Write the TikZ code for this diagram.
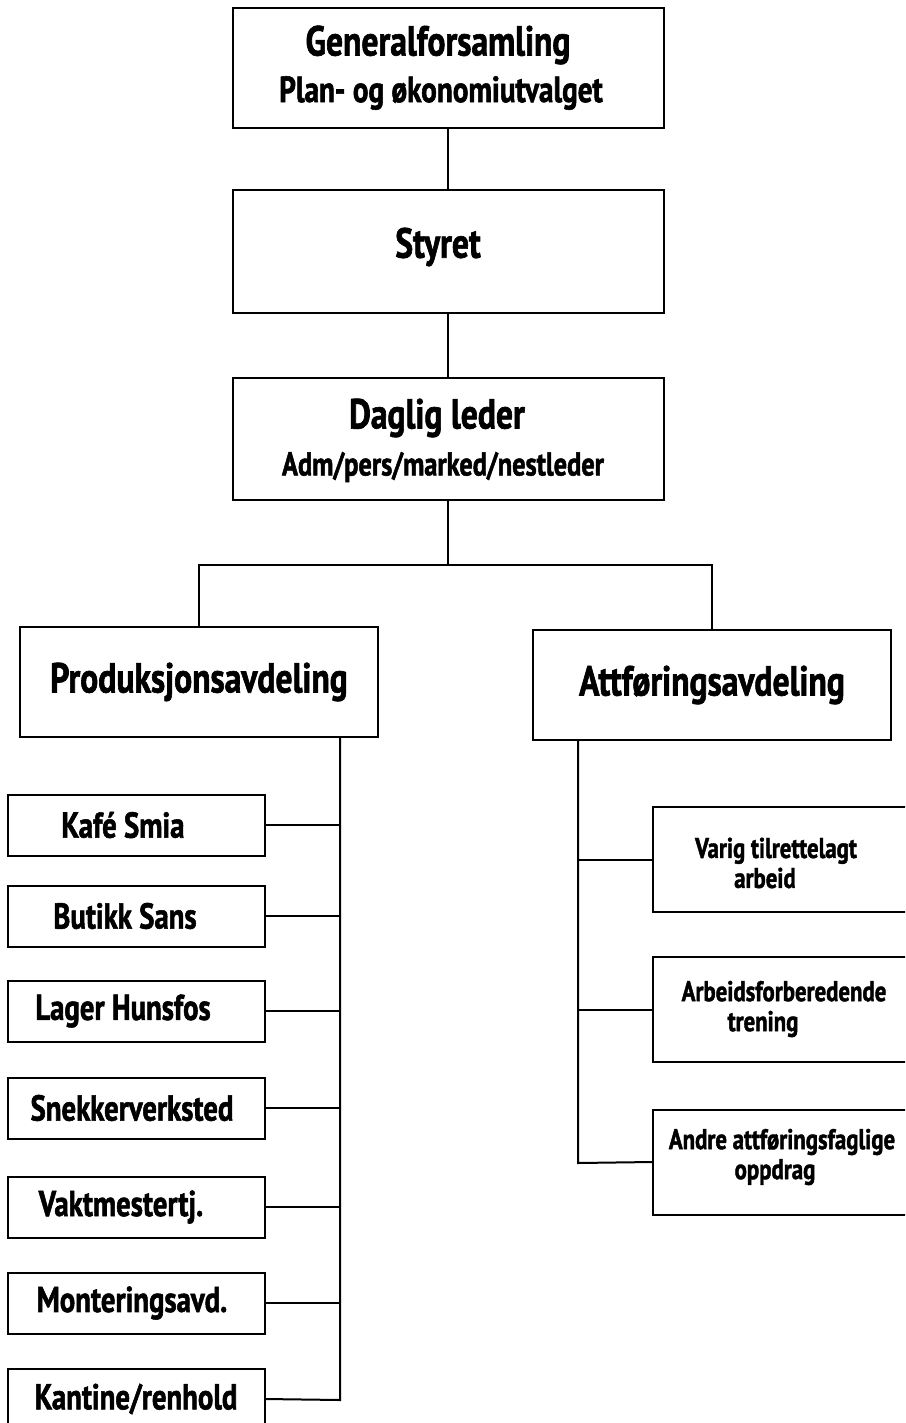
\documentclass[tikz,border=0pt]{standalone}
\usepackage{fontspec}
\setmainfont{PT Sans}[FakeStretch=0.8, BoldFeatures={FakeBold=1.5}]
\begin{document}
\begin{tikzpicture}[x=1pt,y=-1pt,
  box/.style={draw, line width=2pt, inner sep=0pt, align=center, font=\bfseries},
  ln/.style={line width=2pt},
  big/.style={font=\bfseries\fontsize{42}{48}\selectfont},
  mid/.style={font=\bfseries\fontsize{36.5}{40}\selectfont},
  sml/.style={font=\bfseries\fontsize{28.5}{30}\selectfont, align=center},
  lbox/.style={box, minimum width=257, minimum height=61, font=\bfseries\fontsize{36}{40}\selectfont},
  rbox/.style={box, minimum width=320, minimum height=105}]
\useasboundingbox (0,0) rectangle (905,1423);
\clip (0,0) rectangle (905,1423);

% top chain
\node[box, minimum width=431, minimum height=120] (gf) at (448,68) {};
\node[big] (gft) at (438,45) {Generalforsamling};
\node[mid] (gfs) at (441,93) {Plan- og økonomiutvalget};

\node[box, minimum width=431, minimum height=123] (st) at (448,251.5) {};
\node[big] (stt) at (438,247) {Styret};

\node[box, minimum width=431, minimum height=122] (dl) at (448,439) {};
\node[big] (dlt) at (437,418) {Daglig leder};
\node[font=\bfseries\fontsize{33}{38}\selectfont] (dls) at (443,467) {Adm/pers/marked/nestleder};

\draw[ln] (gf.south) -- (st.north);
\draw[ln] (st.south) -- (dl.north);

% departments
\node[box, minimum width=358, minimum height=110, big] (prod) at (199,682) {Produksjonsavdeling};
\node[box, minimum width=358, minimum height=110, big] (att) at (712,685) {Attføringsavdeling};
\coordinate (j) at (448,565);
\draw[ln] (dl.south) -- (j);
\draw[ln] (prod.north) |- (j) -| (att.north);

% production units
\node[lbox] (kafe) at (136,825) {\hspace*{-26pt}Kafé Smia};
\node[lbox] (butikk) at (136,916) {\hspace*{-22pt}Butikk Sans};
\node[lbox] (lager) at (136,1011) {\hspace*{-26pt}Lager Hunsfos};
\node[lbox] (snekker) at (136,1108) {\hspace*{-8pt}Snekkerverksted};
\node[lbox] (vakt) at (136,1207) {\hspace*{-30pt}Vaktmestertj.};
\node[lbox] (mont) at (136,1303) {\hspace*{-8pt}Monteringsavd.};
\node[lbox] (kant) at (136,1399) {Kantine/renhold};

\coordinate (ps) at (340,737);
\coordinate (pe) at (340,1400);
\draw[ln] (ps) -- (pe) -- (kant.east);
\foreach \n in {kafe,butikk,lager,snekker,vakt,mont}
  \draw[ln] (\n.east) -- (\n.east -| ps);

% rehabilitation units
\node[rbox] (varig) at (813,859.5) {};
\node[sml] (varigt) at (776,863) {Varig tilrettelagt\\\hspace*{-22pt}arbeid};
\node[rbox] (arb) at (813,1009.5) {};
\node[sml] (arbt) at (784,1009) {Arbeidsforberedende\\\hspace*{-42pt}trening};
\node[rbox] (andre) at (813,1162) {};
\node[sml] (andret) at (782,1157) {Andre attføringsfaglige\\\hspace*{-14pt}oppdrag};

\coordinate (as) at (578,740);
\coordinate (ae) at (578,1163);
\draw[ln] (as) -- (ae) -- (andre.west);
\draw[ln] (varig.west) -- (varig.west -| as);
\draw[ln] (arb.west) -- (arb.west -| as);
\end{tikzpicture}
\end{document}
